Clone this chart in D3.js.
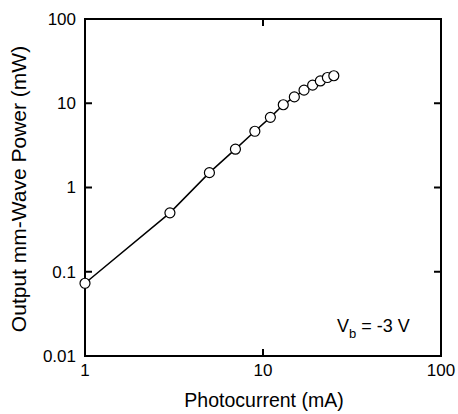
<!DOCTYPE html>
<head>
    <script src="https://d3js.org/d3.v7.min.js"></script>
    <style>
        body { margin: 0; background: #fff; font-family: "Liberation Sans", Arial, Helvetica, sans-serif; }
        text { fill: #000; }
    </style>
</head>
<body>
    <svg></svg>
    <script>
        // photocurrent (mA) and output power (mW)
        const current = [1, 3, 5, 7, 9, 11, 13, 15, 17, 19, 21, 23, 25]
        const power = [0.073, 0.5, 1.5, 2.85, 4.65, 6.8, 9.6, 11.9, 14.3, 16.4, 18.4, 20.2, 21.2]
        const xTicks = [1, 10, 100]
        const yTicks = [0.01, 0.1, 1, 10, 100]
        const yTickLabels = ['0.01', '0.1', '1', '10', '100']

        const width = 458, height = 414
        const plotL = 85, plotR = 441, plotT = 19, plotB = 356

        const svg = d3.select('svg').attr('width', width).attr('height', height)

        const x = d3.scaleLog().domain([1, 100]).range([plotL, plotR])
        const y = d3.scaleLog().domain([0.01, 100]).range([plotB, plotT])

        const tickLen = 7

        // frame
        svg.append('rect')
            .attr('x', plotL).attr('y', plotT)
            .attr('width', plotR - plotL).attr('height', plotB - plotT)
            .attr('fill', 'none').attr('stroke', '#000').attr('stroke-width', 2)

        // inward ticks on all four sides
        const ticks = svg.append('g').attr('stroke', '#000').attr('stroke-width', 2)
        xTicks.forEach(t => {
            ticks.append('line').attr('x1', x(t)).attr('x2', x(t)).attr('y1', plotB).attr('y2', plotB - tickLen)
            ticks.append('line').attr('x1', x(t)).attr('x2', x(t)).attr('y1', plotT).attr('y2', plotT + tickLen)
        })
        yTicks.forEach(t => {
            ticks.append('line').attr('x1', plotL).attr('x2', plotL + tickLen).attr('y1', y(t)).attr('y2', y(t))
            ticks.append('line').attr('x1', plotR).attr('x2', plotR - tickLen).attr('y1', y(t)).attr('y2', y(t))
        })

        svg.append('g').selectAll('text')
            .data(xTicks)
            .enter().append('text')
            .attr('x', d => x(d))
            .attr('y', plotB + 20)
            .attr('text-anchor', 'middle')
            .style('font-size', '17px')
            .text(d => d)

        svg.append('g').selectAll('text')
            .data(yTicks)
            .enter().append('text')
            .attr('x', plotL - 9)
            .attr('y', d => y(d))
            .attr('dy', '0.35em')
            .attr('text-anchor', 'end')
            .style('font-size', '17px')
            .text((d, i) => yTickLabels[i])

        // axis titles
        svg.append('text')
            .attr('x', 264)
            .attr('y', 407)
            .attr('text-anchor', 'middle')
            .style('font-size', '19.5px')
            .text('Photocurrent (mA)')

        svg.append('text')
            .attr('transform', 'translate(26,189)rotate(-90)')
            .attr('text-anchor', 'middle')
            .style('font-size', '21px')
            .text('Output mm-Wave Power (mW)')

        // data
        const line = d3.line().x((d, i) => x(current[i])).y(d => y(d))
        svg.append('path')
            .datum(power)
            .attr('d', line)
            .attr('fill', 'none')
            .attr('stroke', '#000')
            .attr('stroke-width', 1.5)

        svg.append('g').selectAll('circle')
            .data(power)
            .enter().append('circle')
            .attr('cx', (d, i) => x(current[i]))
            .attr('cy', d => y(d))
            .attr('r', 5)
            .attr('fill', '#fff')
            .attr('stroke', '#000')
            .attr('stroke-width', 1.2)

        // bias label
        const vb = svg.append('text')
            .attr('x', 337)
            .attr('y', 332)
            .style('font-size', '18px')
        vb.append('tspan').text('V')
        vb.append('tspan').attr('dy', 6).style('font-size', '13px').text('b')
        vb.append('tspan').attr('dy', -6).text(' = -3 V')
    </script>
</body>
